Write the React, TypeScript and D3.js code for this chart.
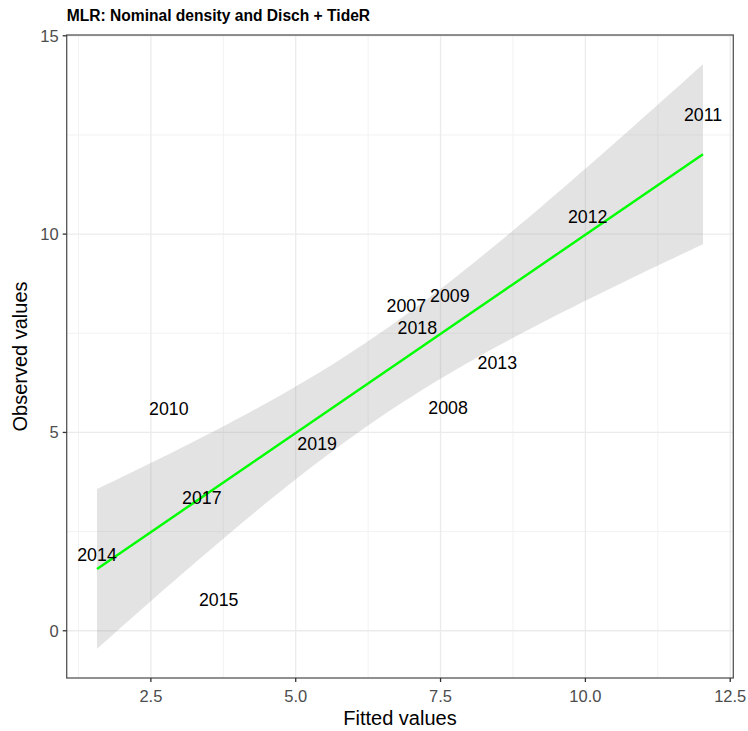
import React from "react";
import * as d3 from "d3";

// Observed vs. fitted values per year, from the MLR model
const years = ["2007", "2008", "2009", "2010", "2011", "2012", "2013", "2014", "2015", "2017", "2018", "2019"];
const fitted = [6.91, 7.63, 7.66, 2.81, 12.03, 10.04, 8.48, 1.57, 3.67, 3.38, 7.1, 5.37];
const observed = [8.19, 5.63, 8.44, 5.59, 13.01, 10.44, 6.77, 1.92, 0.78, 3.35, 7.65, 4.73];

const xTicks = [2.5, 5, 7.5, 10, 12.5];
const xTickLabels = ["2.5", "5.0", "7.5", "10.0", "12.5"];
const yTicks = [0, 5, 10, 15];
const yTickLabels = ["0", "5", "10", "15"];
const xMinor = [1.25, 3.75, 6.25, 8.75, 11.25];
const yMinor = [-2.5, 2.5, 7.5, 12.5];

// Student t quantile (0.975) for n - 2 = 10 degrees of freedom
const T_CRIT = 2.228139;

const W = 748;
const H = 731;
const panel = { left: 66.7, right: 733.3, top: 35, bottom: 678 };

// Ordinary least squares of observed on fitted, with 95% confidence band
function linearFit(xs: number[], ys: number[]) {
  const n = xs.length;
  const mx = d3.mean(xs)!;
  const my = d3.mean(ys)!;
  const sxx = d3.sum(xs, (x) => (x - mx) ** 2);
  const sxy = d3.sum(xs, (x, i) => (x - mx) * (ys[i] - my));
  const b = sxy / sxx;
  const a = my - b * mx;
  const rss = d3.sum(xs, (x, i) => (ys[i] - (a + b * x)) ** 2);
  const s = Math.sqrt(rss / (n - 2));
  const [lo, hi] = d3.extent(xs) as [number, number];
  const grid = d3.range(80).map((i) => lo + ((hi - lo) * i) / 79);
  return grid.map((x) => {
    const y = a + b * x;
    const se = s * Math.sqrt(1 / n + (x - mx) ** 2 / sxx);
    return { x, y, ymin: y - T_CRIT * se, ymax: y + T_CRIT * se };
  });
}

function expand([lo, hi]: [number, number], mult = 0.05): [number, number] {
  const d = (hi - lo) * mult;
  return [lo - d, hi + d];
}

export default function App() {
  const smooth = linearFit(fitted, observed);

  const xDomain = expand(d3.extent(fitted) as [number, number]);
  const yAll = [...observed, ...smooth.map((d) => d.ymin), ...smooth.map((d) => d.ymax)];
  const yDomain = expand(d3.extent(yAll) as [number, number]);

  const x = d3.scaleLinear().domain(xDomain).range([panel.left, panel.right]);
  const y = d3.scaleLinear().domain(yDomain).range([panel.bottom, panel.top]);

  const ribbon = d3
    .area<{ x: number; ymin: number; ymax: number }>()
    .x((d) => x(d.x))
    .y0((d) => y(d.ymin))
    .y1((d) => y(d.ymax))(smooth);
  const line = d3
    .line<{ x: number; y: number }>()
    .x((d) => x(d.x))
    .y((d) => y(d.y))(smooth);

  const inY = (v: number) => v >= yDomain[0] && v <= yDomain[1];
  const inX = (v: number) => v >= xDomain[0] && v <= xDomain[1];

  return (
    <svg
      width={W}
      height={H}
      style={{ position: "absolute", left: 0, top: 0, background: "#fff" }}
      fontFamily="'Liberation Sans', Arial, sans-serif"
    >
      <rect width={W} height={H} fill="#fff" />
      <defs>
        <clipPath id="panel-clip">
          <rect x={panel.left} y={panel.top} width={panel.right - panel.left} height={panel.bottom - panel.top} />
        </clipPath>
      </defs>

      <g clipPath="url(#panel-clip)">
        {xMinor.filter(inX).map((v) => (
          <line key={"xm" + v} x1={x(v)} x2={x(v)} y1={panel.top} y2={panel.bottom} stroke="#f2f2f2" strokeWidth={1} />
        ))}
        {yMinor.filter(inY).map((v) => (
          <line key={"ym" + v} y1={y(v)} y2={y(v)} x1={panel.left} x2={panel.right} stroke="#f2f2f2" strokeWidth={1} />
        ))}
        {xTicks.map((v) => (
          <line key={"xg" + v} x1={x(v)} x2={x(v)} y1={panel.top} y2={panel.bottom} stroke="#ebebeb" strokeWidth={1.3} />
        ))}
        {yTicks.map((v) => (
          <line key={"yg" + v} y1={y(v)} y2={y(v)} x1={panel.left} x2={panel.right} stroke="#ebebeb" strokeWidth={1.3} />
        ))}

        <path d={ribbon ?? ""} fill="#999999" fillOpacity={0.27} />
        <path d={line ?? ""} fill="none" stroke="#00ff00" strokeWidth={2.4} />

        {years.map((yr, i) => (
          <text
            key={yr}
            x={x(fitted[i])}
            y={y(observed[i])}
            dy="0.36em"
            textAnchor="middle"
            fontSize={17.8}
            fill="#000"
          >
            {yr}
          </text>
        ))}
      </g>

      {/* panel border */}
      <rect
        x={panel.left}
        y={panel.top}
        width={panel.right - panel.left}
        height={panel.bottom - panel.top}
        fill="none"
        stroke="#555"
        strokeWidth={1.3}
      />

      {/* x axis */}
      {xTicks.map((v, i) => (
        <g key={"xt" + v}>
          <line x1={x(v)} x2={x(v)} y1={panel.bottom} y2={panel.bottom + 4} stroke="#333" strokeWidth={1.3} />
          <text x={x(v)} y={panel.bottom + 24} textAnchor="middle" fontSize={16.5} fill="#4d4d4d">
            {xTickLabels[i]}
          </text>
        </g>
      ))}
      {/* y axis */}
      {yTicks.map((v, i) => (
        <g key={"yt" + v}>
          <line x1={panel.left - 4} x2={panel.left} y1={y(v)} y2={y(v)} stroke="#333" strokeWidth={1.3} />
          <text x={panel.left - 8} y={y(v)} dy="0.36em" textAnchor="end" fontSize={16.5} fill="#4d4d4d">
            {yTickLabels[i]}
          </text>
        </g>
      ))}

      <text x={(panel.left + panel.right) / 2} y={725} textAnchor="middle" fontSize={20} fill="#000">
        Fitted values
      </text>
      <text
        transform={`translate(27,${(panel.top + panel.bottom) / 2}) rotate(-90)`}
        textAnchor="middle"
        fontSize={20}
        fill="#000"
      >
        Observed values
      </text>

      <text x={panel.left} y={21} fontSize={15.6} fontWeight="bold" fill="#000">
        MLR: Nominal density and Disch + TideR
      </text>
    </svg>
  );
}
